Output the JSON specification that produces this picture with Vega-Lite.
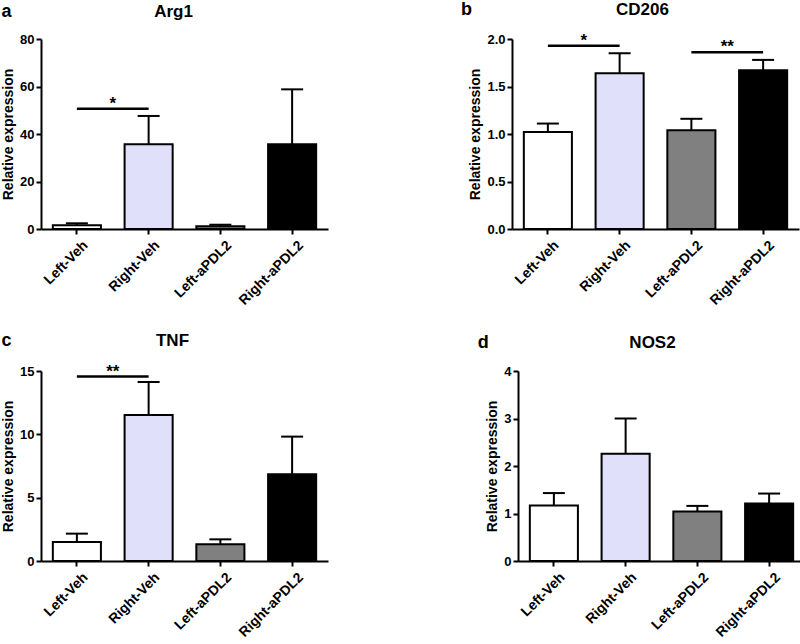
{
  "$schema": "https://vega.github.io/schema/vega-lite/v6.json",
  "padding": {"left": 1, "top": 1, "right": 0, "bottom": 0},
  "background": "white",
  "config": {
    "font": "Liberation Sans",
    "view": {"stroke": null},
    "axis": {
      "domainColor": "black", "domainWidth": 2, "tickColor": "black", "tickWidth": 2, "tickSize": 5,
      "labelColor": "black", "labelFont": "Liberation Sans", "labelFontWeight": "bold", "labelFontSize": 13,
      "titleFont": "Liberation Sans", "titleFontWeight": "bold", "titleFontSize": 14, "titleColor": "black",
      "grid": false, "labelPadding": 2, "titlePadding": 4
    },
    "title": {"font": "Liberation Sans", "fontSize": 17, "fontWeight": "bold", "color": "black", "frame": "group"},
    "concat": {"spacing": 15}
  },
  "datasets": {
    "bars": [
      {"gene": "Arg1", "group": "Left-Veh", "mean": 1.6, "upper": 2.4},
      {"gene": "Arg1", "group": "Right-Veh", "mean": 35.7, "upper": 47.6},
      {"gene": "Arg1", "group": "Left-aPDL2", "mean": 1.2, "upper": 1.8},
      {"gene": "Arg1", "group": "Right-aPDL2", "mean": 35.7, "upper": 58.8},
      {"gene": "CD206", "group": "Left-Veh", "mean": 1.02, "upper": 1.11},
      {"gene": "CD206", "group": "Right-Veh", "mean": 1.64, "upper": 1.85},
      {"gene": "CD206", "group": "Left-aPDL2", "mean": 1.04, "upper": 1.16},
      {"gene": "CD206", "group": "Right-aPDL2", "mean": 1.67, "upper": 1.78},
      {"gene": "TNF", "group": "Left-Veh", "mean": 1.5, "upper": 2.16},
      {"gene": "TNF", "group": "Right-Veh", "mean": 11.53, "upper": 14.13},
      {"gene": "TNF", "group": "Left-aPDL2", "mean": 1.32, "upper": 1.71},
      {"gene": "TNF", "group": "Right-aPDL2", "mean": 6.84, "upper": 9.82},
      {"gene": "NOS2", "group": "Left-Veh", "mean": 1.17, "upper": 1.43},
      {"gene": "NOS2", "group": "Right-Veh", "mean": 2.26, "upper": 3.0},
      {"gene": "NOS2", "group": "Left-aPDL2", "mean": 1.04, "upper": 1.16},
      {"gene": "NOS2", "group": "Right-aPDL2", "mean": 1.21, "upper": 1.42}
    ],
    "sig": [
      {"gene": "Arg1", "g1": "Left-Veh", "g2": "Right-Veh", "level": 50.6, "label": "*"},
      {"gene": "CD206", "g1": "Left-Veh", "g2": "Right-Veh", "level": 1.93, "label": "*"},
      {"gene": "CD206", "g1": "Left-aPDL2", "g2": "Right-aPDL2", "level": 1.86, "label": "**"},
      {"gene": "TNF", "g1": "Left-Veh", "g2": "Right-Veh", "level": 14.56, "label": "**"}
    ]
  },
  "spacing": 23,
  "vconcat": [
    {
      "spacing": 132,
      "hconcat": [
        {
          "title": {"text": "a", "anchor": "start", "frame": "bounds", "fontSize": 18, "offset": -18},
          "vconcat": [{
            "width": 287, "height": 190,
            "title": {"text": "Arg1", "offset": 12.5, "dx": -11},
            "layer": [
              {"data": {"name": "bars"}, "transform": [{"filter": "datum.gene === 'Arg1'"}],
               "mark": {"type": "rule", "strokeWidth": 2, "color": "black"},
               "encoding": {
                 "x": {"field": "group", "type": "nominal", "title": null, "scale": {"domain": ["Left-Veh", "Right-Veh", "Left-aPDL2", "Right-aPDL2"], "paddingInner": 0.33, "paddingOuter": 0.165}, "axis": {"labelAngle": -45, "labelAlign": "right", "labelBaseline": "top", "labelPadding": 4, "labelOffset": 4, "labelFontSize": 14}},
                 "y": {"field": "mean", "type": "quantitative", "title": "Relative expression", "scale": {"domain": [0, 80], "nice": false}, "axis": {"values": [0, 20, 40, 60, 80]}},
                 "y2": {"field": "upper"}}},
              {"data": {"name": "bars"}, "transform": [{"filter": "datum.gene === 'Arg1'"}],
               "mark": {"type": "tick", "orient": "horizontal", "size": 22, "thickness": 2, "color": "black", "opacity": 1},
               "encoding": {"x": {"field": "group", "type": "nominal"}, "y": {"field": "upper", "type": "quantitative"}}},
              {"data": {"name": "bars"}, "transform": [{"filter": "datum.gene === 'Arg1'"}],
               "mark": {"type": "bar", "stroke": "black", "strokeWidth": 2},
               "encoding": {"x": {"field": "group", "type": "nominal"}, "y": {"field": "mean", "type": "quantitative"},
                 "fill": {"field": "group", "type": "nominal", "scale": {"domain": ["Left-Veh", "Right-Veh", "Left-aPDL2", "Right-aPDL2"], "range": ["white", "#e0e0fb", "#808080", "black"]}, "legend": null}}},
              {"data": {"name": "sig"}, "transform": [{"filter": "datum.gene === 'Arg1'"}],
               "mark": {"type": "rule", "strokeWidth": 2.5, "color": "black"},
               "encoding": {"x": {"field": "g1", "type": "nominal"}, "x2": {"field": "g2"}, "y": {"field": "level", "type": "quantitative"}}},
              {"data": {"name": "sig"}, "transform": [{"filter": "datum.gene === 'Arg1'"}],
               "mark": {"type": "text", "fontSize": 17, "fontWeight": "bold", "baseline": "alphabetic", "color": "black"},
               "encoding": {"x": {"field": "g1", "type": "nominal", "bandPosition": 1.246}, "y": {"field": "level", "type": "quantitative"}, "text": {"field": "label"}}}
            ]
          }]
        },
        {
          "title": {"text": "b", "anchor": "start", "frame": "bounds", "fontSize": 18, "offset": -18, "dx": -8},
          "vconcat": [{
            "width": 287, "height": 190,
            "title": {"text": "CD206", "offset": 12.5, "dx": -13},
            "layer": [
              {"data": {"name": "bars"}, "transform": [{"filter": "datum.gene === 'CD206'"}],
               "mark": {"type": "rule", "strokeWidth": 2, "color": "black"},
               "encoding": {
                 "x": {"field": "group", "type": "nominal", "title": null, "scale": {"domain": ["Left-Veh", "Right-Veh", "Left-aPDL2", "Right-aPDL2"], "paddingInner": 0.33, "paddingOuter": 0.165}, "axis": {"labelAngle": -45, "labelAlign": "right", "labelBaseline": "top", "labelPadding": 4, "labelOffset": 4, "labelFontSize": 14}},
                 "y": {"field": "mean", "type": "quantitative", "title": "Relative expression", "scale": {"domain": [0, 2], "nice": false}, "axis": {"values": [0, 0.5, 1, 1.5, 2], "format": ".1f"}},
                 "y2": {"field": "upper"}}},
              {"data": {"name": "bars"}, "transform": [{"filter": "datum.gene === 'CD206'"}],
               "mark": {"type": "tick", "orient": "horizontal", "size": 22, "thickness": 2, "color": "black", "opacity": 1},
               "encoding": {"x": {"field": "group", "type": "nominal"}, "y": {"field": "upper", "type": "quantitative"}}},
              {"data": {"name": "bars"}, "transform": [{"filter": "datum.gene === 'CD206'"}],
               "mark": {"type": "bar", "stroke": "black", "strokeWidth": 2},
               "encoding": {"x": {"field": "group", "type": "nominal"}, "y": {"field": "mean", "type": "quantitative"},
                 "fill": {"field": "group", "type": "nominal", "scale": {"domain": ["Left-Veh", "Right-Veh", "Left-aPDL2", "Right-aPDL2"], "range": ["white", "#e0e0fb", "#808080", "black"]}, "legend": null}}},
              {"data": {"name": "sig"}, "transform": [{"filter": "datum.gene === 'CD206'"}],
               "mark": {"type": "rule", "strokeWidth": 2.5, "color": "black"},
               "encoding": {"x": {"field": "g1", "type": "nominal"}, "x2": {"field": "g2"}, "y": {"field": "level", "type": "quantitative"}}},
              {"data": {"name": "sig"}, "transform": [{"filter": "datum.gene === 'CD206'"}],
               "mark": {"type": "text", "fontSize": 17, "fontWeight": "bold", "baseline": "alphabetic", "color": "black"},
               "encoding": {"x": {"field": "g1", "type": "nominal", "bandPosition": 1.246}, "y": {"field": "level", "type": "quantitative"}, "text": {"field": "label"}}}
            ]
          }]
        }
      ]
    },
    {
      "spacing": 149,
      "hconcat": [
        {
          "title": {"text": "c", "anchor": "start", "frame": "bounds", "fontSize": 18, "offset": -18},
          "vconcat": [{
            "width": 287, "height": 190,
            "title": {"text": "TNF", "offset": 13, "dx": -12},
            "layer": [
              {"data": {"name": "bars"}, "transform": [{"filter": "datum.gene === 'TNF'"}],
               "mark": {"type": "rule", "strokeWidth": 2, "color": "black"},
               "encoding": {
                 "x": {"field": "group", "type": "nominal", "title": null, "scale": {"domain": ["Left-Veh", "Right-Veh", "Left-aPDL2", "Right-aPDL2"], "paddingInner": 0.33, "paddingOuter": 0.165}, "axis": {"labelAngle": -45, "labelAlign": "right", "labelBaseline": "top", "labelPadding": 4, "labelOffset": 4, "labelFontSize": 14}},
                 "y": {"field": "mean", "type": "quantitative", "title": "Relative expression", "scale": {"domain": [0, 15], "nice": false}, "axis": {"values": [0, 5, 10, 15]}},
                 "y2": {"field": "upper"}}},
              {"data": {"name": "bars"}, "transform": [{"filter": "datum.gene === 'TNF'"}],
               "mark": {"type": "tick", "orient": "horizontal", "size": 22, "thickness": 2, "color": "black", "opacity": 1},
               "encoding": {"x": {"field": "group", "type": "nominal"}, "y": {"field": "upper", "type": "quantitative"}}},
              {"data": {"name": "bars"}, "transform": [{"filter": "datum.gene === 'TNF'"}],
               "mark": {"type": "bar", "stroke": "black", "strokeWidth": 2},
               "encoding": {"x": {"field": "group", "type": "nominal"}, "y": {"field": "mean", "type": "quantitative"},
                 "fill": {"field": "group", "type": "nominal", "scale": {"domain": ["Left-Veh", "Right-Veh", "Left-aPDL2", "Right-aPDL2"], "range": ["white", "#e0e0fb", "#808080", "black"]}, "legend": null}}},
              {"data": {"name": "sig"}, "transform": [{"filter": "datum.gene === 'TNF'"}],
               "mark": {"type": "rule", "strokeWidth": 2.5, "color": "black"},
               "encoding": {"x": {"field": "g1", "type": "nominal"}, "x2": {"field": "g2"}, "y": {"field": "level", "type": "quantitative"}}},
              {"data": {"name": "sig"}, "transform": [{"filter": "datum.gene === 'TNF'"}],
               "mark": {"type": "text", "fontSize": 17, "fontWeight": "bold", "baseline": "alphabetic", "color": "black"},
               "encoding": {"x": {"field": "g1", "type": "nominal", "bandPosition": 1.246}, "y": {"field": "level", "type": "quantitative"}, "text": {"field": "label"}}}
            ]
          }]
        },
        {
          "title": {"text": "d", "anchor": "start", "frame": "bounds", "fontSize": 18, "offset": -18, "dx": -8},
          "vconcat": [{
            "width": 287, "height": 190,
            "title": {"text": "NOS2", "offset": 13, "dx": -9},
            "layer": [
              {"data": {"name": "bars"}, "transform": [{"filter": "datum.gene === 'NOS2'"}],
               "mark": {"type": "rule", "strokeWidth": 2, "color": "black"},
               "encoding": {
                 "x": {"field": "group", "type": "nominal", "title": null, "scale": {"domain": ["Left-Veh", "Right-Veh", "Left-aPDL2", "Right-aPDL2"], "paddingInner": 0.33, "paddingOuter": 0.165}, "axis": {"labelAngle": -45, "labelAlign": "right", "labelBaseline": "top", "labelPadding": 4, "labelOffset": 4, "labelFontSize": 14}},
                 "y": {"field": "mean", "type": "quantitative", "title": "Relative expression", "scale": {"domain": [0, 4], "nice": false}, "axis": {"values": [0, 1, 2, 3, 4]}},
                 "y2": {"field": "upper"}}},
              {"data": {"name": "bars"}, "transform": [{"filter": "datum.gene === 'NOS2'"}],
               "mark": {"type": "tick", "orient": "horizontal", "size": 22, "thickness": 2, "color": "black", "opacity": 1},
               "encoding": {"x": {"field": "group", "type": "nominal"}, "y": {"field": "upper", "type": "quantitative"}}},
              {"data": {"name": "bars"}, "transform": [{"filter": "datum.gene === 'NOS2'"}],
               "mark": {"type": "bar", "stroke": "black", "strokeWidth": 2},
               "encoding": {"x": {"field": "group", "type": "nominal"}, "y": {"field": "mean", "type": "quantitative"},
                 "fill": {"field": "group", "type": "nominal", "scale": {"domain": ["Left-Veh", "Right-Veh", "Left-aPDL2", "Right-aPDL2"], "range": ["white", "#e0e0fb", "#808080", "black"]}, "legend": null}}}
            ]
          }]
        }
      ]
    }
  ]
}
